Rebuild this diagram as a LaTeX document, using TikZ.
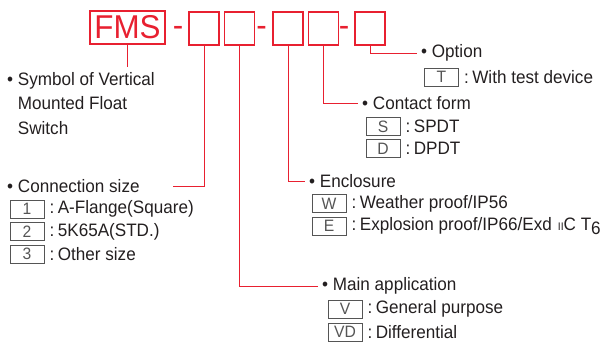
\documentclass[tikz,border=0pt]{standalone}
\usepackage{fontspec}
\setmainfont{Liberation Sans}[FakeStretch=0.95]
\usetikzlibrary{positioning}
\usepackage{xcolor}
\definecolor{codeRed}{RGB}{232,32,48}
\definecolor{keyGray}{RGB}{85,85,85}
\definecolor{inkDark}{RGB}{35,31,32}
\newcommand{\cln}{:\hspace{3.5pt}}

\begin{document}
\begin{tikzpicture}[
    x=1pt, y=-1pt,
    codebox/.style={rectangle, draw=codeRed, line width=1.1pt, minimum width=30pt, minimum height=33pt, inner sep=0pt},
    sepdash/.style={anchor=base, inner sep=0pt, text=codeRed, font=\fontsize{33}{33}\selectfont},
    keybox/.style={rectangle, draw=keyGray, line width=0.8pt, minimum width=34pt, minimum height=18pt, inner sep=0pt, text=keyGray, font=\fontsize{16.5}{16.5}\selectfont},
    heading/.style={anchor=west, inner ysep=0pt, inner xsep=4pt, text=inkDark, font=\fontsize{18}{24.5}\selectfont},
    desc/.style={anchor=west, inner sep=0pt, text=inkDark, font=\fontsize{18}{24.5}\selectfont},
    link/.style={draw=codeRed, line width=0.9pt}
]
\useasboundingbox (0,0) rectangle (607,345);

% model code
\node[codebox, minimum width=75pt, text=codeRed, font=\fontsize{33}{33}\selectfont] (fms) at (127.5,27.5) {FMS};
\node[sepdash] (s1) at (178,37) {-};
\node[codebox] (b1) at (204,28.5) {};
\node[codebox, right=4pt of b1] (b2) {};
\node[sepdash] (s2) at (261.5,37) {-};
\node[codebox] (b3) at (288,28.5) {};
\node[codebox, right=4pt of b3] (b4) {};
\node[sepdash] (s3) at (344,37) {-};
\node[codebox] (b5) at (370,28.5) {};

% headings
\node[heading, inner xsep=0pt, align=left, anchor=north west] (sym) at (7,72) {• Symbol of Vertical\\\hphantom{•}\ Mounted Float\\\hphantom{•}\ Switch};
\node[heading, inner xsep=0pt] (csize) at (7,186) {• Connection size};
\node[heading] (opt) at (417,53) {• Option};
\node[heading] (cform) at (358,103) {• Contact form};
\node[heading] (encl) at (305,181) {• Enclosure};
\node[heading] (mapp) at (318,286) {• Main application};

% option
\node[keybox] (kT) at (441.5,77) {T};
\node[desc, right=5pt of kT] (dT) {\cln With test device};

% contact form
\node[keybox] (kS) at (383,126.5) {S};
\node[desc, right=5pt of kS] (dS) {\cln SPDT};
\node[keybox] (kD) at (383,148.5) {D};
\node[desc, right=5pt of kD] (dD) {\cln DPDT};

% enclosure
\node[keybox] (kW) at (329,203.5) {W};
\node[desc, right=5pt of kW] (dW) {\cln Weather proof/IP56};
\node[keybox] (kE) at (329,226) {E};
\node[desc, right=5pt of kE] (dE) {\cln Explosion proof/IP66/Exd\hspace{6pt}{\fontsize{11}{11}\selectfont II}C T\raisebox{-4pt}{6}};

% connection size
\node[keybox] (k1) at (27,209) {1};
\node[desc, right=5pt of k1] (d1) {\cln A-Flange(Square)};
\node[keybox] (k2) at (27,231.5) {2};
\node[desc, right=5pt of k2] (d2) {\cln 5K65A(STD.)};
\node[keybox] (k3) at (27,254) {3};
\node[desc, right=5pt of k3] (d3) {\cln Other size};

% main application
\node[keybox] (kV) at (345,309) {V};
\node[desc, right=5pt of kV] (dV) {\cln General purpose};
\node[keybox] (kVD) at (345,332) {VD};
\node[desc, right=5pt of kVD] (dVD) {\cln Differential};

% leader lines
\coordinate (symEnd) at (127.5,67);
\coordinate (csEnd) at (173,186);
\draw[link] (fms.south) -- (symEnd);
\draw[link] (b1.south) |- (csEnd);
\draw[link] (b2.south) |- (mapp.west);
\draw[link] (b3.south) |- (encl.west);
\draw[link] (b4.south) |- (cform.west);
\draw[link] (b5.south) |- (opt.west);
\end{tikzpicture}
\end{document}
